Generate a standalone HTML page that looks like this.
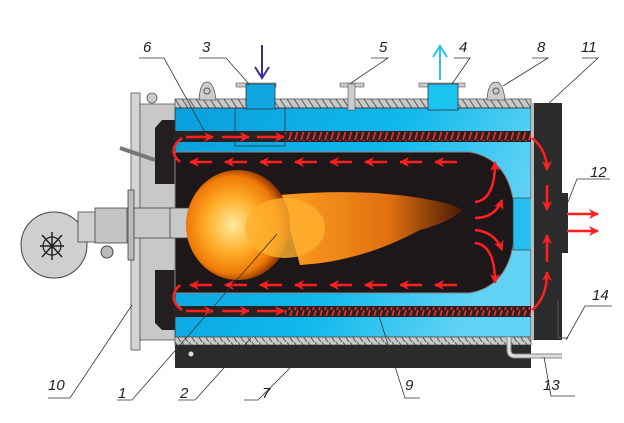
<!DOCTYPE html>
<html><head><meta charset="utf-8"><style>
html,body{margin:0;padding:0;background:#fff}
svg{display:block}
text{font-family:"Liberation Sans",sans-serif;font-style:italic;font-size:15px;fill:#222}
</style></head><body>
<svg width="624" height="423" viewBox="0 0 624 423" xmlns="http://www.w3.org/2000/svg">
<defs>
<linearGradient id="bl" x1="0" y1="0" x2="1" y2="0.3">
<stop offset="0" stop-color="#0a9fdc"/><stop offset="0.6" stop-color="#10b8ec"/><stop offset="1" stop-color="#5fd2f5"/></linearGradient>
<pattern id="hatch" width="7" height="9" patternUnits="userSpaceOnUse">
<rect width="7" height="9" fill="#c9c9c9"/><line x1="0" y1="0" x2="6" y2="9" stroke="#555" stroke-width="1"/></pattern>
<pattern id="rh" width="6" height="10" patternUnits="userSpaceOnUse">
<rect width="6" height="10" fill="#2a2222"/><line x1="1" y1="10" x2="4" y2="0" stroke="#ff2a2a" stroke-width="1.6"/></pattern>
<radialGradient id="fl1" cx="0.45" cy="0.5" r="0.55">
<stop offset="0" stop-color="#ffe9a0"/><stop offset="0.45" stop-color="#ffb02a"/><stop offset="0.8" stop-color="#f07a08"/><stop offset="1" stop-color="#7a2a00"/></radialGradient>
<linearGradient id="fl2" x1="0" y1="0" x2="1" y2="0">
<stop offset="0" stop-color="#ffa020"/><stop offset="0.6" stop-color="#e07010"/><stop offset="1" stop-color="#4a1a05"/></linearGradient>
<marker id="ar" markerWidth="6" markerHeight="6" refX="5" refY="3" orient="auto" markerUnits="userSpaceOnUse">
<path d="M0,0 L6,3 L0,6 Z" fill="#ff1f1f"/></marker>
<marker id="arb" viewBox="0 0 10 10" markerWidth="10" markerHeight="10" refX="9" refY="5" orient="auto" markerUnits="userSpaceOnUse">
<path d="M0,0 L10,5 L0,10 L3,5 Z" fill="#ff1f1f"/></marker>
</defs>

<!-- front plate -->
<rect x="131" y="93" width="9" height="257" fill="#d4d4d4" stroke="#555" stroke-width="0.8"/>
<rect x="140" y="104" width="36" height="236" fill="#c8c8c8" stroke="#555" stroke-width="0.8"/>
<path d="M175,120 L162,120 L155,128 L155,184 L175,184 Z" fill="#231f20"/>
<path d="M175,270 L155,270 L155,323 L162,330 L175,330 Z" fill="#231f20"/>
<circle cx="152" cy="98" r="5" fill="#ccc" stroke="#555" stroke-width="0.8"/>
<path d="M120,148 L155,160" stroke="#777" stroke-width="4"/>

<!-- top insulation -->
<rect x="175" y="99" width="356" height="9" fill="url(#hatch)" stroke="#555" stroke-width="0.8"/>
<!-- lugs -->
<path d="M199,100 Q200,82 207,82 Q214,82 216,100 Z" fill="#ccc" stroke="#555" stroke-width="0.8"/><circle cx="207" cy="91" r="3" fill="none" stroke="#555"/>
<path d="M487,100 Q488,82 496,82 Q503,82 505,100 Z" fill="#ccc" stroke="#555" stroke-width="0.8"/><circle cx="496" cy="91" r="3" fill="none" stroke="#555"/>

<!-- blue body -->
<rect x="175" y="108" width="356" height="229" fill="url(#bl)" stroke="#333" stroke-width="0.8"/>
<rect x="235" y="108" width="50" height="38" fill="none" stroke="#333" stroke-width="0.8"/>
<!-- upper hot band -->
<rect x="175" y="131" width="356" height="11" fill="#2a2222"/>
<rect x="285" y="132" width="246" height="9" fill="url(#rh)"/>
<!-- lower band -->
<rect x="175" y="306" width="356" height="11" fill="#2a2222"/>
<rect x="285" y="307" width="246" height="9" fill="url(#rh)"/>
<!-- furnace -->
<path d="M175,152 L470,152 Q515,160 515,222 Q515,285 470,293 L175,293 Z" fill="#1e1719" stroke="#888" stroke-width="1"/>
<rect x="513" y="198" width="19" height="52" fill="#27bdef" stroke="#333" stroke-width="0.6"/>

<!-- bottom -->
<rect x="175" y="337" width="356" height="8" fill="url(#hatch)" stroke="#555" stroke-width="0.8"/>
<rect x="175" y="345" width="356" height="23" fill="#2b2b2b"/>
<circle cx="191" cy="354" r="2.5" fill="#ddd"/>
<path d="M509,337 L509,350 Q509,356 515,356 L562,356" fill="none" stroke="#888" stroke-width="5"/>
<path d="M509,337 L509,350 Q509,356 515,356 L562,356" fill="none" stroke="#ddd" stroke-width="3"/>

<!-- rear box -->
<rect x="531" y="103" width="31" height="237" fill="#2b2b2b"/>
<rect x="531" y="103" width="3" height="237" fill="#bbb"/>
<rect x="562" y="193" width="6" height="60" fill="#2b2b2b"/>
<path d="M558,300 L558,338 L568,338" fill="none" stroke="#555" stroke-width="1"/>

<!-- nozzles -->
<rect x="236" y="83" width="40" height="4" fill="#ccc" stroke="#555" stroke-width="0.6"/>
<rect x="246" y="84" width="29" height="25" fill="#0fa6e2" stroke="#333" stroke-width="0.8"/>
<rect x="340" y="83" width="24" height="4" fill="#ccc" stroke="#555" stroke-width="0.6"/>
<rect x="348" y="84" width="7" height="26" fill="#ccc" stroke="#555" stroke-width="0.6"/>
<rect x="419" y="83" width="46" height="4" fill="#ccc" stroke="#555" stroke-width="0.6"/>
<rect x="428" y="84" width="30" height="26" fill="#1ac3f0" stroke="#333" stroke-width="0.8"/>
<!-- water arrows -->
<line x1="262" y1="45" x2="262" y2="76" stroke="#3b2d96" stroke-width="2"/>
<path d="M255,67 L262,78 L269,67" fill="none" stroke="#3b2d96" stroke-width="2"/>
<line x1="440" y1="80" x2="440" y2="48" stroke="#29c2f0" stroke-width="2"/>
<path d="M433,57 L440,46 L447,57" fill="none" stroke="#29c2f0" stroke-width="2"/>

<!-- burner -->
<circle cx="54" cy="245" r="33" fill="#cfcfcf" stroke="#444" stroke-width="1"/>
<rect x="78" y="212" width="20" height="30" fill="#cfcfcf" stroke="#444" stroke-width="0.8"/>
<rect x="95" y="208" width="32" height="35" fill="#c4c4c4" stroke="#444" stroke-width="0.8"/>
<circle cx="107" cy="252" r="6" fill="#bbb" stroke="#444"/>
<rect x="128" y="190" width="6" height="70" fill="#bbb" stroke="#444" stroke-width="0.8"/>
<rect x="134" y="208" width="38" height="30" fill="#c8c8c8" stroke="#444" stroke-width="0.8"/>
<rect x="170" y="208" width="20" height="30" fill="#c8c8c8" stroke="#444" stroke-width="0.8"/>
<g stroke="#222" stroke-width="1.5"><line x1="42" y1="235" x2="62" y2="257"/><line x1="62" y1="235" x2="42" y2="257"/><line x1="52" y1="232" x2="52" y2="260"/><line x1="40" y1="246" x2="64" y2="246"/></g>
<circle cx="52" cy="246" r="9" fill="none" stroke="#222" stroke-width="1.2"/>

<!-- flame -->
<path d="M280,195 Q360,188 420,198 Q455,204 462,210 Q450,222 420,230 Q360,262 300,265 Z" fill="url(#fl2)"/>
<ellipse cx="238" cy="225" rx="52" ry="55" fill="url(#fl1)"/>
<ellipse cx="285" cy="228" rx="40" ry="30" fill="#ffb030" opacity="0.8"/>

<!-- gas arrows -->
<g stroke="#ff1f1f" stroke-width="2.5" fill="none">
<line x1="212" y1="162" x2="190" y2="162" marker-end="url(#arb)"/><line x1="247" y1="162" x2="225" y2="162" marker-end="url(#arb)"/>
<line x1="282" y1="162" x2="260" y2="162" marker-end="url(#arb)"/><line x1="317" y1="162" x2="295" y2="162" marker-end="url(#arb)"/>
<line x1="352" y1="162" x2="330" y2="162" marker-end="url(#arb)"/><line x1="387" y1="162" x2="365" y2="162" marker-end="url(#arb)"/>
<line x1="422" y1="162" x2="400" y2="162" marker-end="url(#arb)"/><line x1="457" y1="162" x2="435" y2="162" marker-end="url(#arb)"/>
<line x1="212" y1="285" x2="190" y2="285" marker-end="url(#arb)"/><line x1="247" y1="285" x2="225" y2="285" marker-end="url(#arb)"/>
<line x1="282" y1="285" x2="260" y2="285" marker-end="url(#arb)"/><line x1="317" y1="285" x2="295" y2="285" marker-end="url(#arb)"/>
<line x1="352" y1="285" x2="330" y2="285" marker-end="url(#arb)"/><line x1="387" y1="285" x2="365" y2="285" marker-end="url(#arb)"/>
<line x1="422" y1="285" x2="400" y2="285" marker-end="url(#arb)"/><line x1="457" y1="285" x2="435" y2="285" marker-end="url(#arb)"/>
<line x1="186" y1="137" x2="213" y2="137" marker-end="url(#arb)"/><line x1="222" y1="137" x2="249" y2="137" marker-end="url(#arb)"/><line x1="257" y1="137" x2="284" y2="137" marker-end="url(#arb)"/>
<line x1="186" y1="311" x2="213" y2="311" marker-end="url(#arb)"/><line x1="222" y1="311" x2="249" y2="311" marker-end="url(#arb)"/><line x1="257" y1="311" x2="284" y2="311" marker-end="url(#arb)"/>
<path d="M180,162 Q166,150 182,138" /><path d="M180,285 Q166,298 182,310"/>
<path d="M475,202 Q495,200 495,162" marker-end="url(#arb)"/>
<path d="M475,218 Q495,218 502,200" marker-end="url(#arb)"/>
<path d="M475,230 Q495,232 502,250" marker-end="url(#arb)"/>
<path d="M475,243 Q495,245 495,283" marker-end="url(#arb)"/>
<path d="M532,138 Q547,150 547,170" marker-end="url(#arb)"/>
<line x1="547" y1="185" x2="547" y2="210" marker-end="url(#arb)"/>
<path d="M532,310 Q547,298 547,272" marker-end="url(#arb)"/>
<line x1="547" y1="262" x2="547" y2="235" marker-end="url(#arb)"/>
<line x1="567" y1="214" x2="598" y2="214" marker-end="url(#arb)"/>
<line x1="567" y1="231" x2="598" y2="231" marker-end="url(#arb)"/>
</g>

<!-- leaders -->
<g stroke="#333" stroke-width="0.8" fill="none">
<path d="M139,58 L164,58 L206,134"/>
<path d="M199,58 L226,58 L249,84"/>
<path d="M371,58 L388,58 L351,83"/>
<path d="M454,58 L470,58 L452,84"/>
<path d="M532,58 L548,58 L503,86"/>
<path d="M582,58 L598,58 L547,105"/>
<path d="M610,179 L577,179 L566,207"/>
<path d="M612,306 L585,306 L566,340"/>
<path d="M575,396 L551,396 L544,357"/>
<path d="M420,398 L405,398 L378,313"/>
<path d="M244,400 L258,400 L290,368"/>
<path d="M178,400 L195,400 L251,338"/>
<path d="M117,400 L132,400 L277,234"/>
<path d="M48,398 L70,398 L132,305"/>
</g>
<text x="143" y="52">6</text><text x="202" y="52">3</text><text x="379" y="52">5</text>
<text x="459" y="52">4</text><text x="537" y="52">8</text><text x="581" y="52">11</text>
<text x="590" y="177">12</text><text x="592" y="300">14</text><text x="543" y="390">13</text>
<text x="405" y="390">9</text><text x="262" y="398">7</text><text x="180" y="398">2</text>
<text x="118" y="398">1</text><text x="48" y="390">10</text>
</svg>
</body></html>
